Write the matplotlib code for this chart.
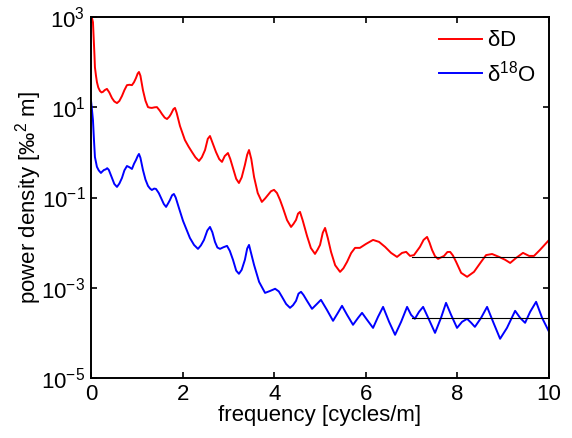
import numpy as np
import matplotlib.pyplot as plt
from matplotlib.ticker import FixedLocator, FixedFormatter, NullLocator

plt.rcParams['font.family'] = ['Liberation Sans', 'DejaVu Sans']
plt.rcParams['mathtext.default'] = 'regular'

# dD power spectrum (frequency in cycles/m, power density)
freq_dD = [0, 0.022, 0.044, 0.055, 0.066, 0.077, 0.087, 0.11, 0.131, 0.16,
           0.197, 0.23, 0.262, 0.30, 0.349, 0.40, 0.459, 0.51, 0.568, 0.62,
           0.677, 0.73, 0.786, 0.84, 0.895, 0.94, 0.983, 1.02, 1.048, 1.08,
           1.135, 1.19, 1.245, 1.29, 1.33, 1.39, 1.44, 1.50, 1.55, 1.61,
           1.66, 1.71, 1.747, 1.80, 1.834, 1.87, 1.943, 2.05, 2.13, 2.205,
           2.28, 2.358, 2.42, 2.49, 2.55, 2.598, 2.65, 2.729, 2.80, 2.86,
           2.92, 2.99, 3.04, 3.10, 3.17, 3.23, 3.29, 3.36, 3.41, 3.45,
           3.50, 3.56, 3.64, 3.73, 3.80, 3.865, 3.93, 3.996, 4.06, 4.127,
           4.19, 4.28, 4.367, 4.42, 4.476, 4.52, 4.563, 4.62, 4.716, 4.80,
           4.89, 4.95, 5.0, 5.06, 5.11, 5.17, 5.24, 5.33, 5.437, 5.51,
           5.59, 5.68, 5.764, 5.87, 6.004, 6.157, 6.288, 6.42, 6.55, 6.68,
           6.79, 6.88, 6.965, 7.05, 7.18, 7.26, 7.336, 7.39, 7.445, 7.51,
           7.576, 7.707, 7.78, 7.84, 7.90, 7.97, 8.08, 8.21, 8.36, 8.515,
           8.624, 8.755, 8.908, 9.04, 9.15, 9.28, 9.43, 9.563, 9.67, 9.80,
           10.0]
power_dD = [1170, 950, 770, 450, 265, 140, 77, 50, 36, 27.5,
            23, 21.4, 22, 24, 25.6, 21.4, 16, 13.5, 12.4, 13.8,
            17.8, 24, 31, 31.6, 31, 36, 44.6, 56, 60.7, 50,
            24, 14, 10.1, 9.8, 9.7, 10, 10.1, 8.5, 7.1, 5.9,
            5.5, 6.2, 7.1, 9.1, 9.7, 7.6, 3.86, 1.89, 1.35, 1.02,
            0.78, 0.646, 0.78, 1.13, 2.0, 2.31, 1.66, 1.02, 0.71, 0.616,
            0.83, 0.97, 0.72, 0.453, 0.26, 0.21, 0.28, 0.527, 0.89, 1.13,
            0.71, 0.286, 0.126, 0.080, 0.095, 0.114, 0.138, 0.148, 0.126, 0.0885,
            0.0589, 0.0316, 0.0223, 0.026, 0.0319, 0.044, 0.048, 0.0316, 0.0141, 0.0076,
            0.00563, 0.0071, 0.0089, 0.0166, 0.0212, 0.0126, 0.00624, 0.00316, 0.00225, 0.0027,
            0.00375, 0.0059, 0.00766, 0.00766, 0.00938, 0.0115, 0.0104, 0.00805, 0.00593, 0.00483,
            0.00593, 0.00624, 0.00508, 0.0053, 0.00805, 0.0115, 0.0134, 0.010, 0.0069, 0.0050,
            0.00437, 0.00508, 0.0062, 0.00624, 0.0052, 0.00375, 0.00214, 0.00175, 0.00225, 0.00375,
            0.0053, 0.0056, 0.00483, 0.00417, 0.00355, 0.00459, 0.00593, 0.00508, 0.00508, 0.0069,
            0.0115]

# d18O power spectrum
freq_d18O = [0, 0.022, 0.044, 0.066, 0.087, 0.13, 0.17, 0.218, 0.25, 0.284,
             0.32, 0.355, 0.39, 0.459, 0.51, 0.568, 0.62, 0.677, 0.73, 0.786,
             0.84, 0.895, 0.94, 0.983, 1.02, 1.048, 1.08, 1.135, 1.19, 1.245,
             1.29, 1.33, 1.38, 1.42, 1.48, 1.53, 1.59, 1.64, 1.69, 1.725,
             1.77, 1.81, 1.85, 1.92, 2.01, 2.16, 2.25, 2.336, 2.40, 2.467,
             2.54, 2.598, 2.65, 2.707, 2.76, 2.817, 2.89, 2.97, 3.03, 3.10,
             3.17, 3.23, 3.29, 3.36, 3.41, 3.45, 3.50, 3.56, 3.67, 3.80,
             3.91, 4.02, 4.10, 4.17, 4.26, 4.345, 4.41, 4.476, 4.53, 4.585,
             4.64, 4.716, 4.825, 4.934, 5.02, 5.15, 5.284, 5.39, 5.48, 5.59,
             5.72, 5.83, 5.917, 6.026, 6.157, 6.266, 6.376, 6.507, 6.638, 6.77,
             6.90, 6.987, 7.07, 7.16, 7.25, 7.38, 7.51, 7.64, 7.75, 7.86,
             7.99, 8.10, 8.21, 8.30, 8.38, 8.515, 8.646, 8.777, 8.93, 9.08,
             9.258, 9.367, 9.476, 9.585, 9.716, 9.847, 10.0]
power_d18O = [14.5, 8.9, 5.2, 1.89, 0.79, 0.48, 0.40, 0.351, 0.38, 0.408,
              0.42, 0.447, 0.41, 0.272, 0.20, 0.172, 0.204, 0.272, 0.40, 0.50,
              0.47, 0.43, 0.56, 0.68, 0.83, 0.925, 0.76, 0.408, 0.25, 0.181,
              0.158, 0.147, 0.158, 0.155, 0.126, 0.098, 0.072, 0.062, 0.076, 0.0885,
              0.112, 0.12, 0.1, 0.0589, 0.0303, 0.0127, 0.0089, 0.00728, 0.0087, 0.0115,
              0.0186, 0.0223, 0.017, 0.0104, 0.0078, 0.00728, 0.0079, 0.00848, 0.0066, 0.00417,
              0.0024, 0.00204, 0.0025, 0.00417, 0.0074, 0.0089, 0.0056, 0.00321, 0.00135, 0.00077,
              0.00085, 0.00095, 0.00083, 0.00063, 0.000437, 0.000359, 0.00041, 0.000513, 0.00074, 0.000813,
              0.00069, 0.000513, 0.000341, 0.00044, 0.00054, 0.000324, 0.000185, 0.000278, 0.000398, 0.000251,
              0.000151, 0.000215, 0.000278, 0.000195, 0.000129, 0.000227, 0.000377, 0.000176, 9.06e-5, 0.000176,
              0.000377, 0.000251, 0.000205, 0.000292, 0.000377, 0.000195, 0.0001, 0.000215, 0.000463, 0.000251,
              0.000129, 0.000176, 0.000205, 0.000167, 0.000136, 0.000215, 0.000377, 0.000176, 7.4e-5, 0.000129,
              0.000308, 0.000215, 0.000167, 0.000292, 0.000488, 0.000215, 0.000105]

# white noise levels fitted above 7 cycles/m
noise_range = [7, 10]
noise_dD = 4.9e-3
noise_d18O = 2.1e-4

ytick_vals = [1e-5, 1e-3, 1e-1, 1e1, 1e3]
ytick_labels = ['$10^{-5}$', '$10^{-3}$', '$10^{-1}$', '$10^{1}$', '$10^{3}$']

fig = plt.figure(figsize=(5.72, 4.38), dpi=100)
ax = fig.add_axes([0.159, 0.137, 0.801, 0.824])

ax.plot(freq_dD, power_dD, color='red', lw=1.4, label=r'$\delta$D',
        solid_joinstyle='round')
ax.plot(freq_d18O, power_d18O, color='blue', lw=1.4, label=r'$\delta^{18}$O',
        solid_joinstyle='round')
ax.plot(noise_range, [noise_dD, noise_dD], color='black', lw=0.8)
ax.plot(noise_range, [noise_d18O, noise_d18O], color='black', lw=0.8)

ax.set_yscale('log')
ax.set_xlim(0, 10)
ax.set_ylim(1e-5, 1e3)
ax.set_xticks([0, 2, 4, 6, 8, 10])
ax.yaxis.set_major_locator(FixedLocator(ytick_vals))
ax.yaxis.set_major_formatter(FixedFormatter(ytick_labels))
ax.yaxis.set_minor_locator(NullLocator())

ax.tick_params(direction='in', length=4, width=1.2, top=True, right=True,
               labelsize=16, pad=4)
for s in ax.spines.values():
    s.set_linewidth(1.4)

ax.set_xlabel('frequency [cycles/m]', fontsize=16, labelpad=0)
ax.set_ylabel('power density [‰$^{2}$ m]', fontsize=16, labelpad=-2)

ax.legend(loc='upper right', frameon=False, fontsize=16, handlelength=1.9,
          handletextpad=0.25, labelspacing=0.4, borderaxespad=0.2)

fig.savefig('out.png', dpi=100)
